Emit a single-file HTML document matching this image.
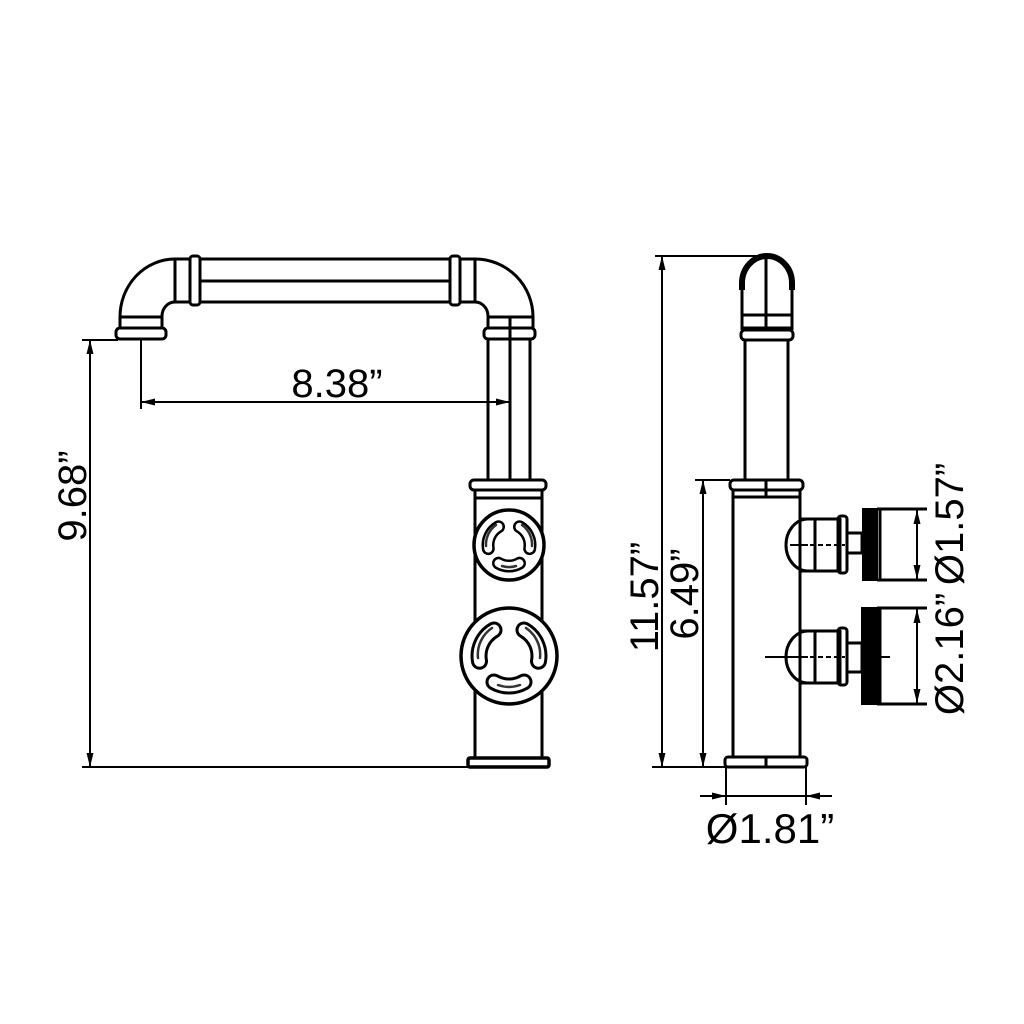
<!DOCTYPE html>
<html><head><meta charset="utf-8"><style>
html,body{margin:0;padding:0;background:#fff;}
svg{display:block;}
text{font-family:"Liberation Sans",sans-serif;fill:#000;}
</style></head><body>
<svg width="1024" height="1024" viewBox="0 0 1024 1024" xmlns="http://www.w3.org/2000/svg">
<defs>
<marker id="ar" viewBox="0 0 14 8" refX="14" refY="4" markerWidth="14" markerHeight="8" orient="auto-start-reverse" markerUnits="userSpaceOnUse">
<path d="M0,0.5 L14,4 L0,7.5 z" fill="#000"/></marker>
</defs>
<g fill="none" stroke="#000" stroke-width="3" stroke-linejoin="round">
<line x1="200" y1="259" x2="450" y2="259"/>
<line x1="200" y1="302" x2="450" y2="302"/>
<line x1="200" y1="281" x2="450" y2="281"/>
<rect x="190" y="256" width="10" height="49" rx="3"/>
<rect x="450" y="256" width="10" height="49" rx="3"/>
<line x1="175" y1="259" x2="190" y2="259"/><line x1="175" y1="302" x2="190" y2="302"/>
<line x1="175" y1="259" x2="175" y2="302"/>
<line x1="460" y1="259" x2="475" y2="259"/><line x1="460" y1="302" x2="475" y2="302"/>
<line x1="475" y1="259" x2="475" y2="302"/>
<path d="M175,259 A55,58 0 0 0 120,317 L120,328"/>
<path d="M175,302 A13,14 0 0 0 162,316 L162,328"/>
<line x1="120" y1="317" x2="162" y2="317"/>
<rect x="116" y="328" width="50" height="11" rx="4"/>
<path d="M475,259 A58,58 0 0 1 533,317 L533,328"/>
<path d="M475,302 A13,14 0 0 1 488,316 L488,328"/>
<line x1="488" y1="317" x2="533" y2="317"/>
<rect x="484" y="328" width="51" height="11" rx="4"/>
<line x1="488" y1="339" x2="488" y2="480"/>
<line x1="530" y1="339" x2="530" y2="480"/>
<line x1="510" y1="317" x2="510" y2="480"/>
<rect x="470" y="480" width="76" height="10" rx="4"/>
<line x1="475" y1="490" x2="475" y2="758"/>
<line x1="542" y1="490" x2="542" y2="758"/>
<line x1="475" y1="498" x2="542" y2="498"/>
<rect x="468" y="758" width="81" height="9" rx="2" stroke-width="3.5"/>
<circle cx="509" cy="545" r="35" fill="#fff" stroke-width="3.5"/>
<circle cx="509" cy="656" r="48" fill="#fff" stroke-width="3.5"/>
</g>
<g fill="none" stroke-linecap="round">
<g stroke="#000" stroke-width="17">
<path d="M524,682 A30,30 0 0 1 494,682"/><path d="M479.5,661.2 A30,30 0 0 1 494,630"/><path d="M524,630 A30,30 0 0 1 538.5,661.2"/>
</g>
<g stroke="#fff" stroke-width="11">
<path d="M524,682 A30,30 0 0 1 494,682"/><path d="M479.5,661.2 A30,30 0 0 1 494,630"/><path d="M524,630 A30,30 0 0 1 538.5,661.2"/>
</g>
<g stroke="#000" stroke-width="13">
<path d="M519.5,563.2 A21,21 0 0 1 498.5,563.2"/><path d="M488.3,548.6 A21,21 0 0 1 498.5,526.8"/><path d="M519.5,526.8 A21,21 0 0 1 529.7,548.6"/>
</g>
<g stroke="#fff" stroke-width="8">
<path d="M519.5,563.2 A21,21 0 0 1 498.5,563.2"/><path d="M488.3,548.6 A21,21 0 0 1 498.5,526.8"/><path d="M519.5,526.8 A21,21 0 0 1 529.7,548.6"/>
</g>
<g stroke="#333" stroke-width="2.5">
<path d="M520,685 A33,33 0 0 1 498,685"/><path d="M478,658 A32,32 0 0 1 492,628"/><path d="M526,628 A32,32 0 0 1 540,658"/>
<path d="M516,566 A24,24 0 0 1 502,566"/><path d="M486,546 A24,24 0 0 1 496,525"/><path d="M522,525 A24,24 0 0 1 532,546"/>
</g>
</g>
<g stroke="#000" stroke-width="2" fill="none">
<line x1="82" y1="340" x2="118" y2="340"/>
<line x1="82" y1="767" x2="468" y2="767"/>
<line x1="90" y1="340" x2="90" y2="767" marker-start="url(#ar)" marker-end="url(#ar)"/>
<line x1="141" y1="340" x2="141" y2="409"/>
<line x1="141" y1="402" x2="510" y2="402" marker-start="url(#ar)" marker-end="url(#ar)"/>
</g>
<text x="337" y="397" font-size="40" text-anchor="middle">8.38”</text>
<text transform="translate(86,496) rotate(-90)" font-size="40" text-anchor="middle">9.68”</text>

<g fill="none" stroke="#000" stroke-width="3" stroke-linejoin="round">
<path d="M742,330 L742,283 A25,27 0 0 1 792,283 L792,330"/>
<path d="M742,290 L742,283 A25,27 0 0 1 792,283 L792,290" stroke-width="6"/>
<line x1="766" y1="258" x2="766" y2="330"/>
<line x1="742" y1="315" x2="792" y2="315"/>
<line x1="742" y1="328" x2="792" y2="328"/>
<rect x="741" y="330" width="52" height="10" rx="4"/>
<line x1="745" y1="340" x2="745" y2="480"/>
<line x1="788" y1="340" x2="788" y2="480"/>
<rect x="730" y="480" width="73" height="10" rx="4"/>
<line x1="766" y1="480" x2="766" y2="497"/>
<line x1="733" y1="497" x2="800" y2="497"/>
<line x1="733" y1="490" x2="733" y2="758"/>
<path d="M800,490 L800,519 M800,571 L800,631 M800,683 L800,758"/>
<rect x="725" y="757" width="82" height="10" rx="3"/>
<line x1="766" y1="757" x2="766" y2="767"/>
<path d="M808,519 A22,26 0 0 0 808,571"/>
<rect x="800" y="519" width="40" height="52"/>
<line x1="815" y1="519" x2="815" y2="571"/>
<rect x="838" y="516" width="9" height="57" rx="3"/>
<rect x="847" y="533" width="15" height="20"/>
<path d="M877,509 L927,509 M877,580 L927,580 M880,509 L880,580"/>
<path d="M808,631 A22,26 0 0 0 808,683"/>
<rect x="800" y="631" width="40" height="52"/>
<line x1="815" y1="631" x2="815" y2="683"/>
<rect x="838" y="628" width="9" height="57" rx="3"/>
<rect x="847" y="643" width="15" height="29"/>
<path d="M877,608 L927,608 M877,704 L927,704 M880,608 L880,704"/>
</g>
<rect x="862" y="508" width="16" height="73" fill="#000"/>
<rect x="861" y="607" width="18" height="98" fill="#000"/>
<g stroke="#000" stroke-width="2" fill="none">
<line x1="790" y1="545" x2="808" y2="545"/>
<line x1="810" y1="545" x2="845" y2="545" stroke-dasharray="5,3"/>
<line x1="765" y1="657" x2="808" y2="657"/>
<line x1="810" y1="657" x2="845" y2="657" stroke-dasharray="5,3"/>
<line x1="878" y1="657" x2="890" y2="657"/>
<line x1="917" y1="510" x2="917" y2="579" marker-start="url(#ar)" marker-end="url(#ar)"/>
<line x1="917" y1="609" x2="917" y2="703" marker-start="url(#ar)" marker-end="url(#ar)"/>
<line x1="655" y1="256" x2="770" y2="256"/>
<line x1="652" y1="767" x2="726" y2="767"/>
<line x1="695" y1="480" x2="730" y2="480"/>
<line x1="662" y1="256" x2="662" y2="767" marker-start="url(#ar)" marker-end="url(#ar)"/>
<line x1="703" y1="480" x2="703" y2="767" marker-start="url(#ar)" marker-end="url(#ar)"/>
<line x1="726" y1="767" x2="726" y2="805"/>
<line x1="806" y1="767" x2="806" y2="805"/>
<line x1="700" y1="796" x2="726" y2="796" marker-end="url(#ar)"/>
<line x1="832" y1="796" x2="806" y2="796" marker-end="url(#ar)"/>
<line x1="726" y1="796" x2="806" y2="796"/>
</g>
<text x="770" y="843" font-size="42" text-anchor="middle">Ø1.81”</text>
<text transform="translate(658,597) rotate(-90)" font-size="40" text-anchor="middle">11.57”</text>
<text transform="translate(698,594) rotate(-90)" font-size="40" text-anchor="middle">6.49”</text>
<text transform="translate(963,524) rotate(-90)" font-size="40" text-anchor="middle">Ø1.57”</text>
<text transform="translate(963,654) rotate(-90)" font-size="40" text-anchor="middle">Ø2.16”</text>
</svg>
</body></html>
